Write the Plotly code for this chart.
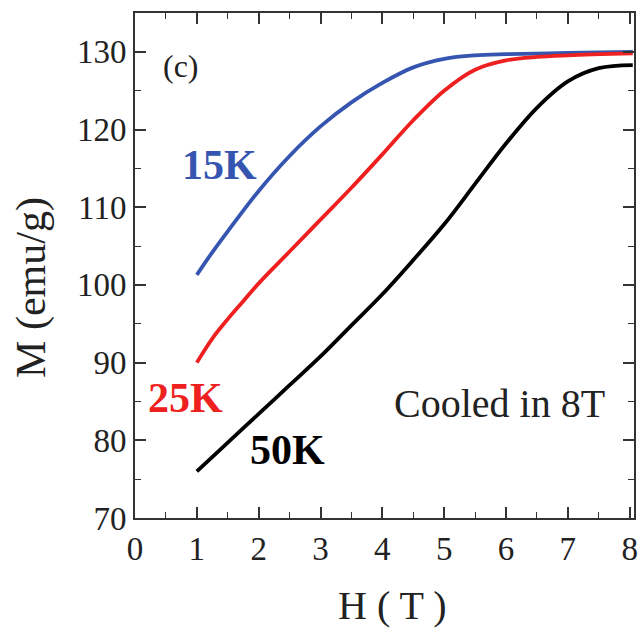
import plotly.graph_objects as go

# Magnetization M (emu/g) vs field H (T), sample cooled in 8 T
h_15k = [1.0, 1.25, 1.5, 2.0, 2.5, 3.0, 3.5, 4.0, 4.5, 5.0, 5.5, 6.0, 7.0, 8.05]
m_15k = [101.3, 104.2, 106.9, 112.1, 116.6, 120.4, 123.5, 126.0, 128.0, 129.1, 129.55, 129.7, 129.85, 130.0]

h_25k = [1.0, 1.25, 1.5, 1.75, 2.0, 2.5, 3.0, 3.5, 4.0, 4.5, 5.0, 5.5, 6.0, 6.5, 7.0, 8.05]
m_25k = [90.0, 93.1, 95.6, 97.9, 100.2, 104.3, 108.4, 112.5, 116.8, 121.2, 125.0, 127.7, 128.9, 129.35, 129.55, 129.8]

h_50k = [1.0, 1.5, 2.0, 2.5, 3.0, 3.5, 4.0, 4.5, 5.0, 5.5, 6.0, 6.5, 7.0, 7.5, 8.05]
m_50k = [76.0, 79.7, 83.4, 87.1, 90.8, 94.8, 98.8, 103.2, 107.8, 113.0, 118.2, 122.8, 126.2, 127.9, 128.3]

x_ticks = [0, 1, 2, 3, 4, 5, 6, 7, 8]
y_ticks = [70, 80, 90, 100, 110, 120, 130]

FONT = "Liberation Serif, Times New Roman, serif"
BLUE = "#3555b0"
RED = "#ee2020"
BLACK = "#000000"
AXIS = "#333333"
TEXT = "#222222"

fig = go.Figure()
for h, m, c in [(h_15k, m_15k, BLUE), (h_25k, m_25k, RED), (h_50k, m_50k, BLACK)]:
    fig.add_trace(go.Scatter(x=h, y=m, mode="lines",
                             line=dict(color=c, width=3.8, shape="spline", smoothing=1.0),
                             showlegend=False, hoverinfo="skip"))

axis_common = dict(
    showgrid=False, zeroline=False, showline=True, linecolor=AXIS, linewidth=2,
    mirror="ticks", ticks="inside", ticklen=11, tickwidth=1.6, tickcolor=AXIS,
    tickfont=dict(family=FONT, size=33, color=TEXT),
)

fig.update_xaxes(range=[0, 8.07], tickvals=x_ticks,
                 minor=dict(ticks="inside", ticklen=6, tickwidth=1.4, tickcolor=AXIS, dtick=0.5),
                 **axis_common)
fig.update_yaxes(range=[70, 135], tickvals=y_ticks,
                 minor=dict(ticks="inside", ticklen=6, tickwidth=1.4, tickcolor=AXIS, dtick=5),
                 **axis_common)

# axis titles
fig.add_annotation(xref="paper", yref="paper", x=0.517, y=-0.174, text="H ( T )",
                   showarrow=False, xanchor="center", yanchor="middle",
                   font=dict(family=FONT, size=40, color=TEXT))
fig.add_annotation(xref="paper", yref="paper", x=-0.207, y=0.457, text="M (emu/g)",
                   showarrow=False, xanchor="center", yanchor="middle", textangle=-90,
                   font=dict(family=FONT, size=42, color=TEXT))

labels = [
    ("15K", 1.37, 115.5, BLUE, True, 42),
    ("25K", 0.82, 85.4, RED, True, 42),
    ("50K", 2.47, 78.7, BLACK, True, 42),
    ("Cooled in 8T", 5.89, 84.7, TEXT, False, 40),
    ("(c)", 0.75, 128.2, TEXT, False, 32),
]
for text, x, y, color, bold, size in labels:
    fig.add_annotation(x=x, y=y, text=f"<b>{text}</b>" if bold else text, showarrow=False,
                       font=dict(family=FONT, size=size, color=color),
                       xanchor="center", yanchor="middle")

fig.update_layout(
    width=643, height=629,
    margin=dict(l=135, r=5, t=13, b=111),
    paper_bgcolor="white", plot_bgcolor="white",
)

fig.write_html("out.html")
